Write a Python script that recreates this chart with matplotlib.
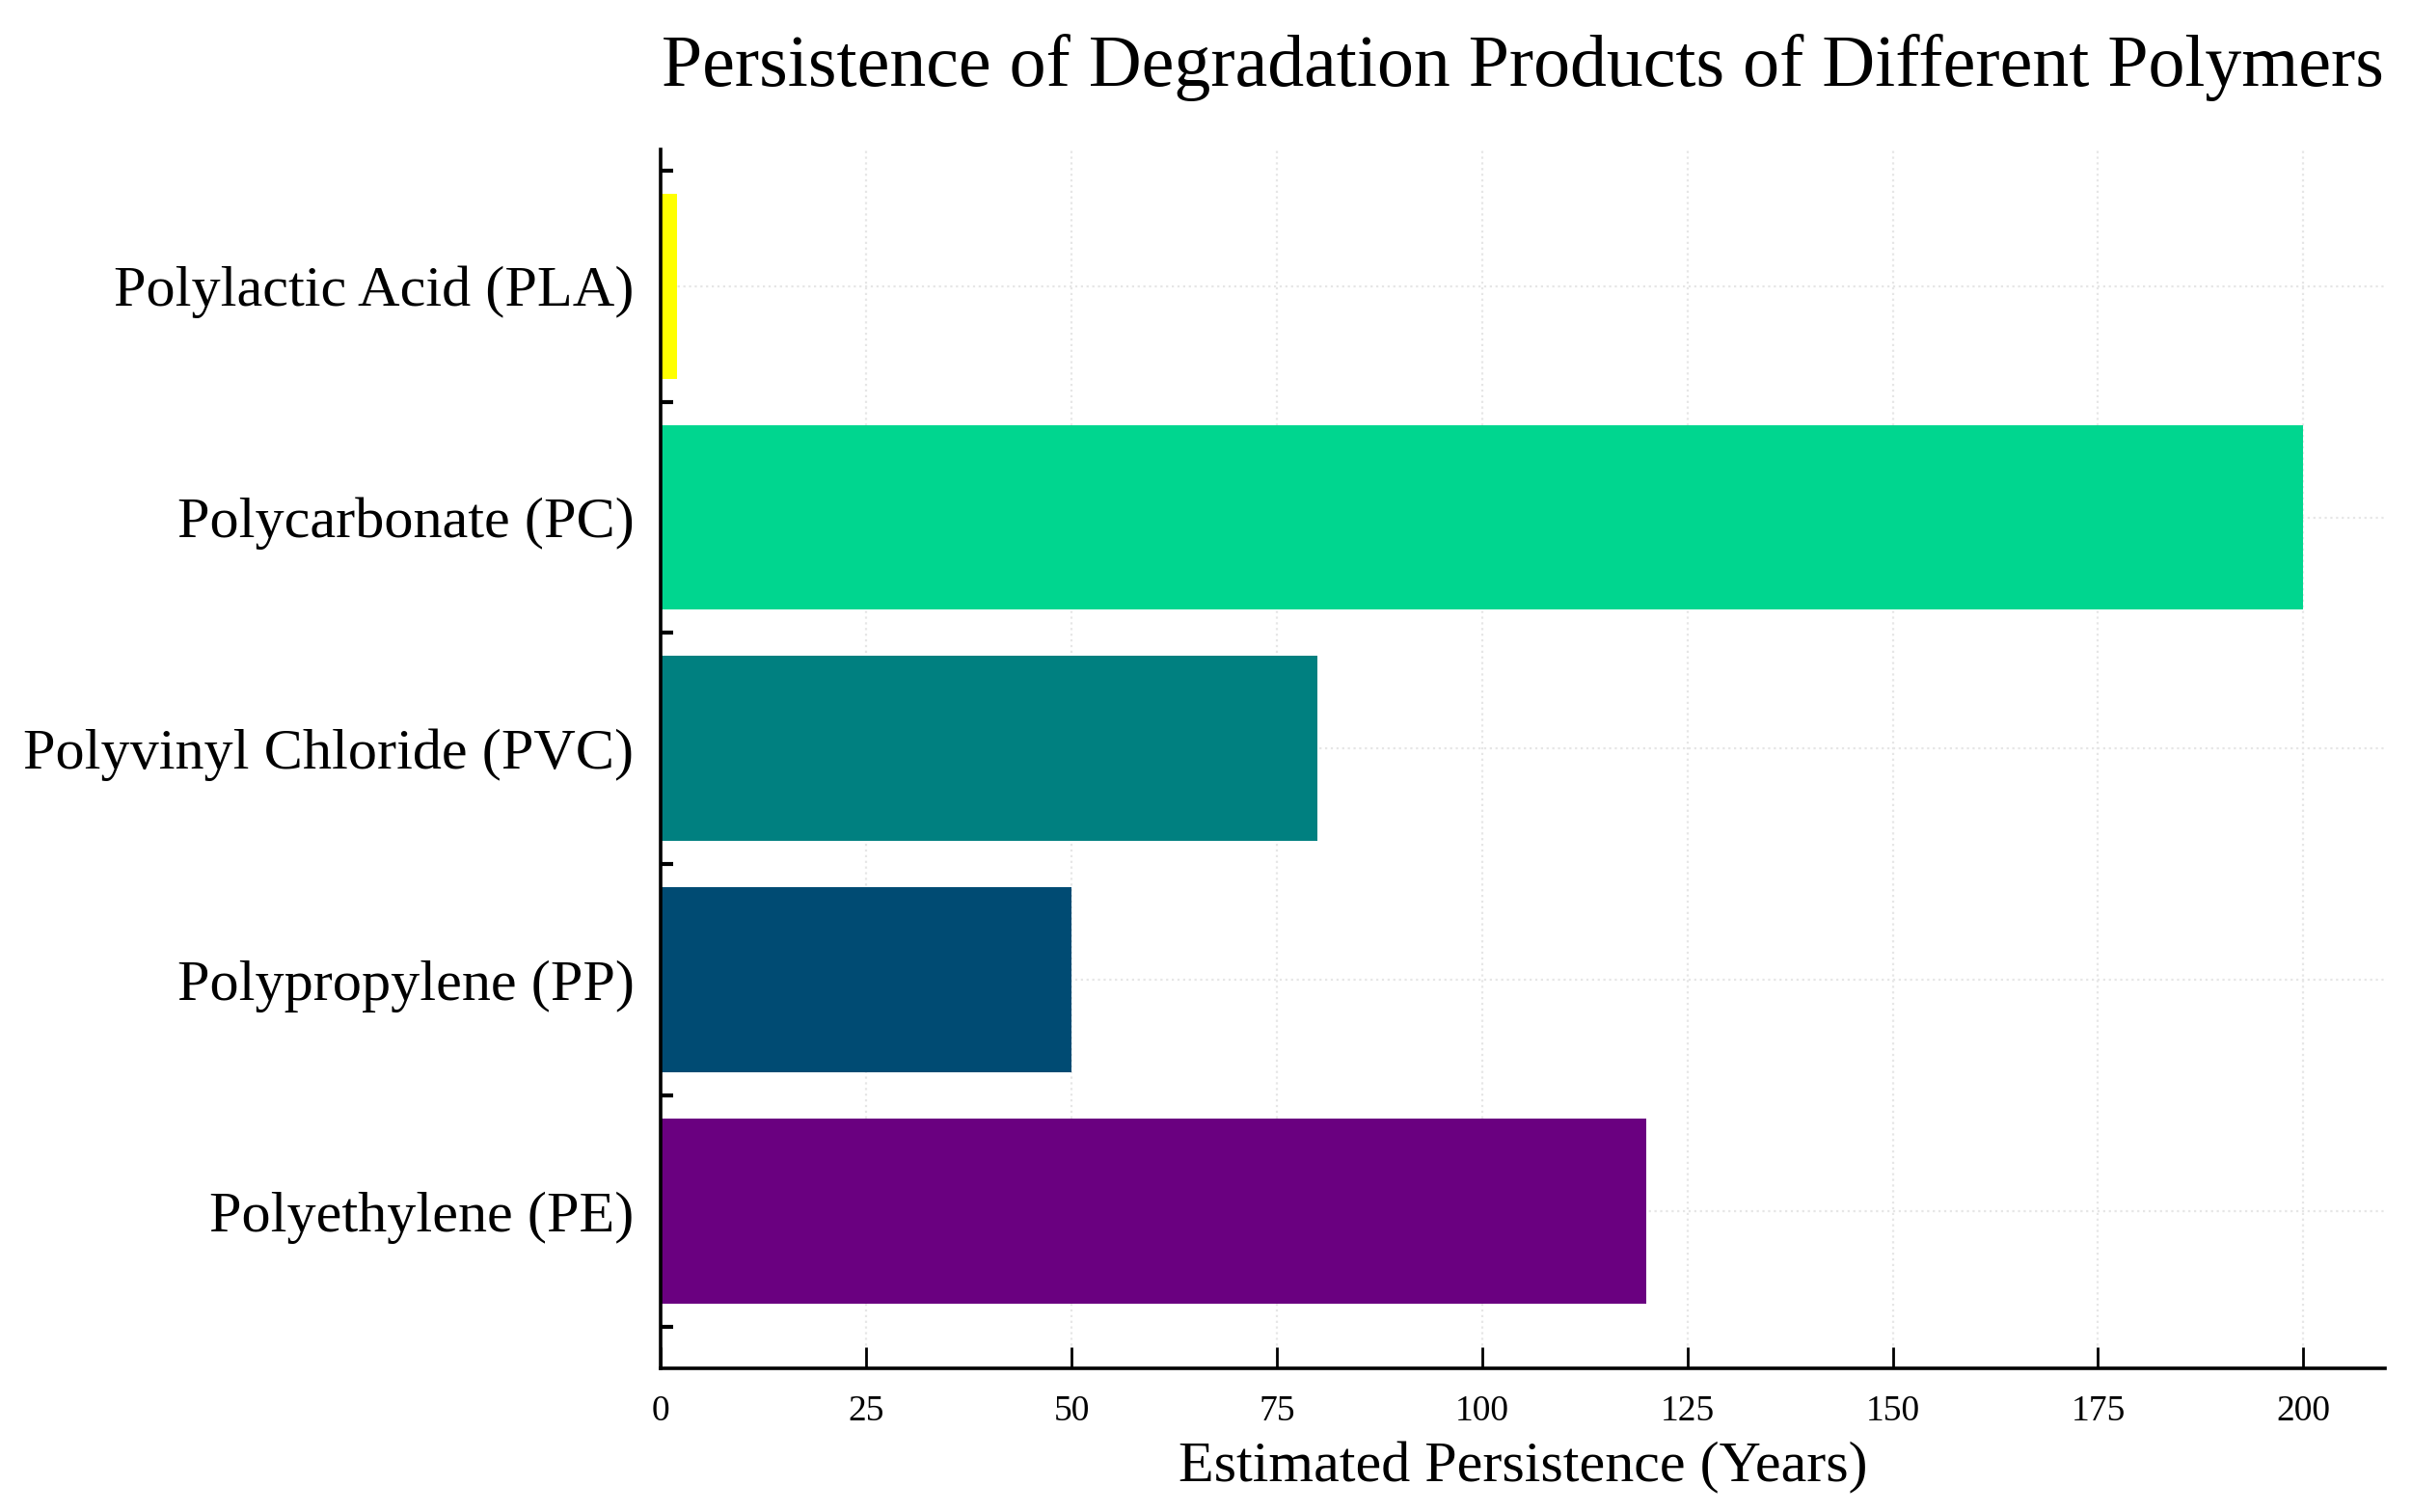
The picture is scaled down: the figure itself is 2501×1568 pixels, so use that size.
import matplotlib
matplotlib.use('Agg')
import matplotlib.pyplot as plt
from matplotlib.ticker import FixedLocator
import numpy as np

# Data
polymers = ['Polyethylene (PE)', 'Polypropylene (PP)', 'Polyvinyl Chloride (PVC)',
            'Polycarbonate (PC)', 'Polylactic Acid (PLA)']
persistence_years = [120, 50, 80, 200, 2]
bar_colours = ['#6a0080', '#004b73', '#008080', '#00d68f', '#ffff00']
x_ticks = [0, 25, 50, 75, 100, 125, 150, 175, 200]

plt.rcParams['font.family'] = ['Liberation Serif', 'DejaVu Serif']

fig = plt.figure(figsize=(12.505, 7.84), dpi=200)
ax = fig.add_axes([0.274, 0.095, 0.715, 0.806])

ypos = np.arange(len(polymers))
ax.barh(ypos, persistence_years, height=0.8, color=bar_colours, zorder=2)

ax.set_xlim(0, 210)
ax.set_ylim(-0.68, 4.59)

ax.set_yticks(ypos)
ax.set_yticklabels(polymers, fontsize=21.7)
ax.yaxis.set_minor_locator(FixedLocator(np.arange(-0.5, len(polymers), 1.0)))
ax.tick_params(axis='y', which='major', length=0, pad=10)
ax.tick_params(axis='y', which='minor', direction='in', length=4.5, width=1.5)

ax.set_xticks(x_ticks)
ax.tick_params(axis='x', direction='in', length=8, width=1, labelsize=13.5, pad=10)

# light dotted grid behind the bars
ax.grid(True, color='#e6e6e6', linestyle=':', linewidth=0.8, zorder=0)

for side in ['top', 'right']:
    ax.spines[side].set_visible(False)
for side in ['left', 'bottom']:
    ax.spines[side].set_linewidth(1.3)
    ax.spines[side].set_color('black')

ax.set_xlabel('Estimated Persistence (Years)', fontsize=21.6, labelpad=5)
ax.set_title('Persistence of Degradation Products of Different Polymers',
             fontsize=27.3, pad=24)

fig.savefig('out.png', dpi=200)
